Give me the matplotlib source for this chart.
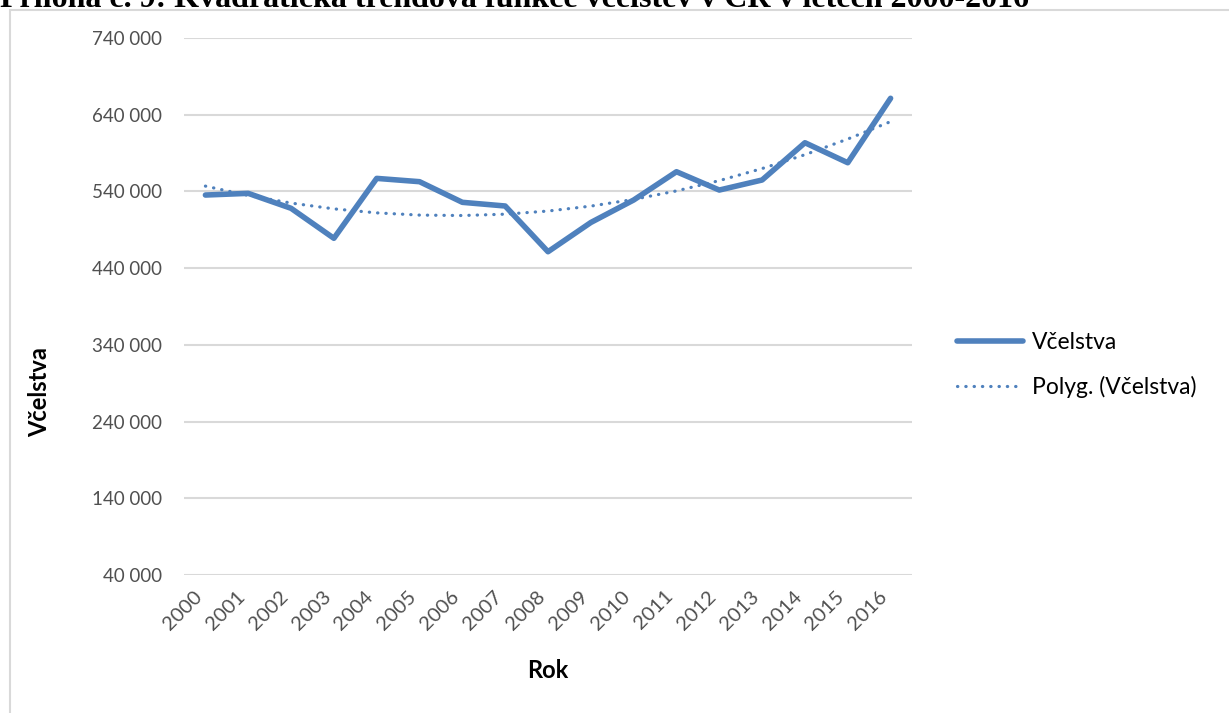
import numpy as np
import matplotlib
matplotlib.use("Agg")
import matplotlib.pyplot as plt
from matplotlib.patches import Rectangle

plt.rcParams['font.family'] = ['Lato', 'DejaVu Sans']

# data
years = [str(y) for y in range(2000, 2017)]
vcelstva = [535300, 537500, 518000, 478900, 557000, 552700, 525800, 521000,
            461400, 499500, 528800, 565700, 541800, 554900, 603500, 577400, 661400]
yticks = [40000, 140000, 240000, 340000, 440000, 540000, 640000, 740000]

title = "Příloha č. 9: Kvadratická trendová funkce včelstev v ČR v letech 2000-2016"

blue = '#4F81BD'
grid = '#D9D9D9'
txt = '#595959'

W, H = 1229, 713
fig = plt.figure(figsize=(W / 100, H / 100), dpi=100)

# chart area frame (light gray, runs off the right/bottom edges)
fig.add_artist(Rectangle((10 / W, -0.1), 1.2, 1 - 10 / H + 0.1, transform=fig.transFigure,
                         fill=False, edgecolor=grid, lw=1.5))

ax = fig.add_axes([184 / W, 1 - 575 / H, (912 - 184) / W, (575 - 38) / H])

x = np.arange(len(years))
ax.plot(x, vcelstva, color=blue, lw=4, solid_capstyle='round', solid_joinstyle='round',
        label='Včelstva', zorder=3)

# quadratic trend (Excel polynomial trendline, order 2)
coef = np.polyfit(x, vcelstva, 2)
ax.plot(x, np.polyval(coef, x), color=blue, lw=2.3, linestyle=(0, (0.1, 2.5)),
        dash_capstyle='round', label='Polyg. (Včelstva)', zorder=4)

ax.set_xlim(-0.5, len(years) - 0.5)
ax.set_ylim(40000, 740000)
ax.set_yticks(yticks)
ax.set_yticklabels([f"{v:,}".replace(",", " ") for v in yticks])
ax.set_xticks(x)
ax.set_xticklabels(years, rotation=45, ha='right', va='top')
ax.tick_params(axis='both', length=0, colors='#505050', labelsize=14.5)
ax.tick_params(axis='y', pad=16, labelsize=13.5)
ax.tick_params(axis='x', pad=9)
ax.grid(axis='y', color=grid, lw=1.5)
ax.set_axisbelow(True)
for s in ax.spines.values():
    s.set_visible(False)

fig.text(40 / W, 1 - 392 / H, 'Včelstva', rotation=90, ha='center', va='center',
         fontsize=17, fontweight='bold', color='black')
fig.text(548 / W, 1 - 671 / H, 'Rok', ha='center', va='center',
         fontsize=17, fontweight='bold', color='black')

leg = ax.legend(loc='center left', bbox_to_anchor=(936 / W, 1 - 365 / H),
                bbox_transform=fig.transFigure, frameon=False, fontsize=16.5,
                handlelength=2.9, handletextpad=0.4, labelspacing=1.0)
for t in leg.get_texts():
    t.set_color('black')

# caption of the page, mostly cut off at the top (as in the source)
fig.text(0, 1 - 7 / H, title, ha='left', va='baseline', fontsize=23,
         fontweight='bold', family='Liberation Serif', color='black')

fig.savefig('out.png', dpi=100)
